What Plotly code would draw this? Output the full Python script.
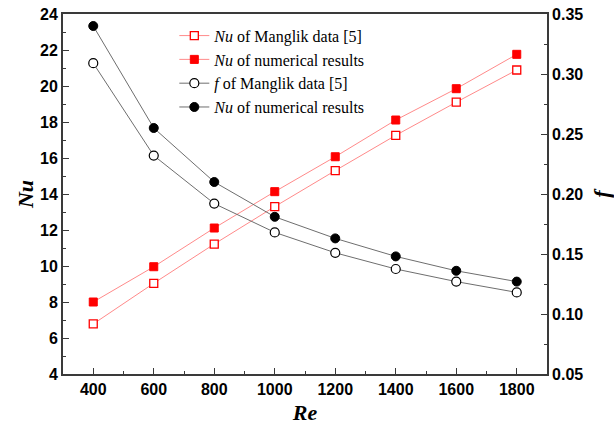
import plotly.graph_objects as go

# Reynolds numbers
re = [400, 600, 800, 1000, 1200, 1400, 1600, 1800]

# Nusselt number: Manglik correlation vs. numerical results
nu_manglik = [6.78, 9.04, 11.22, 13.30, 15.30, 17.26, 19.10, 20.89]
nu_numerical = [8.00, 9.96, 12.11, 14.13, 16.07, 18.11, 19.85, 21.76]

# Friction factor: Manglik correlation vs. numerical results
f_manglik = [0.309, 0.232, 0.192, 0.168, 0.151, 0.1375, 0.127, 0.118]
f_numerical = [0.340, 0.255, 0.210, 0.181, 0.163, 0.148, 0.136, 0.127]

legend_names = [
    "<i>Nu</i> of Manglik data [5]",
    "<i>Nu</i> of numerical results",
    "<i>f</i> of Manglik data [5]",
    "<i>Nu</i> of numerical results",
]

RED = "#ff0000"
RED_LINE = "#ff8a8a"
GREY_LINE = "#6e6e6e"
FRAME = "#3a3a3a"

fig = go.Figure()

fig.add_trace(go.Scatter(
    x=re, y=nu_manglik, name=legend_names[0], mode="lines+markers",
    line=dict(color=RED_LINE, width=1),
    marker=dict(symbol="square", size=8, color="white",
                line=dict(color=RED, width=1.3)),
))
fig.add_trace(go.Scatter(
    x=re, y=nu_numerical, name=legend_names[1], mode="lines+markers",
    line=dict(color=RED_LINE, width=1),
    marker=dict(symbol="square", size=8, color=RED,
                line=dict(color=RED, width=1)),
))
fig.add_trace(go.Scatter(
    x=re, y=f_manglik, name=legend_names[2], mode="lines+markers",
    yaxis="y2",
    line=dict(color=GREY_LINE, width=1),
    marker=dict(symbol="circle", size=9, color="white",
                line=dict(color="black", width=1.2)),
))
fig.add_trace(go.Scatter(
    x=re, y=f_numerical, name=legend_names[3], mode="lines+markers",
    yaxis="y2",
    line=dict(color=GREY_LINE, width=1),
    marker=dict(symbol="circle", size=9, color="black",
                line=dict(color="black", width=1)),
))

tick_font = dict(family="Liberation Sans, Arial", size=16, color="black",
                 weight="bold")
title_font = dict(family="Liberation Serif, Times New Roman", size=22,
                  color="black", weight="bold", style="italic")

fig.update_layout(
    width=614, height=430,
    margin=dict(l=63, r=67, t=14, b=56, autoexpand=False),
    paper_bgcolor="white", plot_bgcolor="white",
    showlegend=True,
    legend=dict(
        x=0.23, y=0.987, xanchor="left", yanchor="top",
        bgcolor="rgba(0,0,0,0)", borderwidth=0,
        font=dict(family="Liberation Serif, Times New Roman", size=16,
                  color="black"),
        tracegroupgap=0, itemwidth=30,
    ),
    xaxis=dict(
        range=[300, 1900], tickvals=re, ticktext=[str(v) for v in re],
        ticks="inside", ticklen=6, tickwidth=1.2, tickcolor=FRAME,
        minor=dict(dtick=100, tick0=300, ticks="inside", ticklen=3,
                   tickwidth=1.2, tickcolor=FRAME),
        showline=True, linecolor=FRAME, linewidth=1.8, mirror=True,
        showgrid=False, zeroline=False, automargin=False,
        tickfont=tick_font,
        title=dict(text="Re", font=title_font, standoff=8),
    ),
    yaxis=dict(
        range=[4, 24], dtick=2, tick0=4,
        ticks="inside", ticklen=6, tickwidth=1.2, tickcolor=FRAME,
        minor=dict(dtick=1, ticks="inside", ticklen=3, tickwidth=1.2,
                   tickcolor=FRAME),
        showline=True, linecolor=FRAME, linewidth=1.8,
        showgrid=False, zeroline=False, automargin=False,
        tickfont=tick_font,
        title=dict(text="Nu", font=title_font, standoff=0),
    ),
    yaxis2=dict(
        overlaying="y", side="right",
        range=[0.05, 0.35], dtick=0.05, tick0=0.05, tickformat=".2f",
        ticks="inside", ticklen=6, tickwidth=1.2, tickcolor=FRAME,
        minor=dict(dtick=0.025, ticks="inside", ticklen=3, tickwidth=1.2,
                   tickcolor=FRAME),
        showline=True, linecolor=FRAME, linewidth=1.8,
        showgrid=False, zeroline=False, automargin=False,
        tickfont=tick_font,
        title=dict(text="f", font=title_font, standoff=12),
    ),
)

fig.write_html("out.html")
